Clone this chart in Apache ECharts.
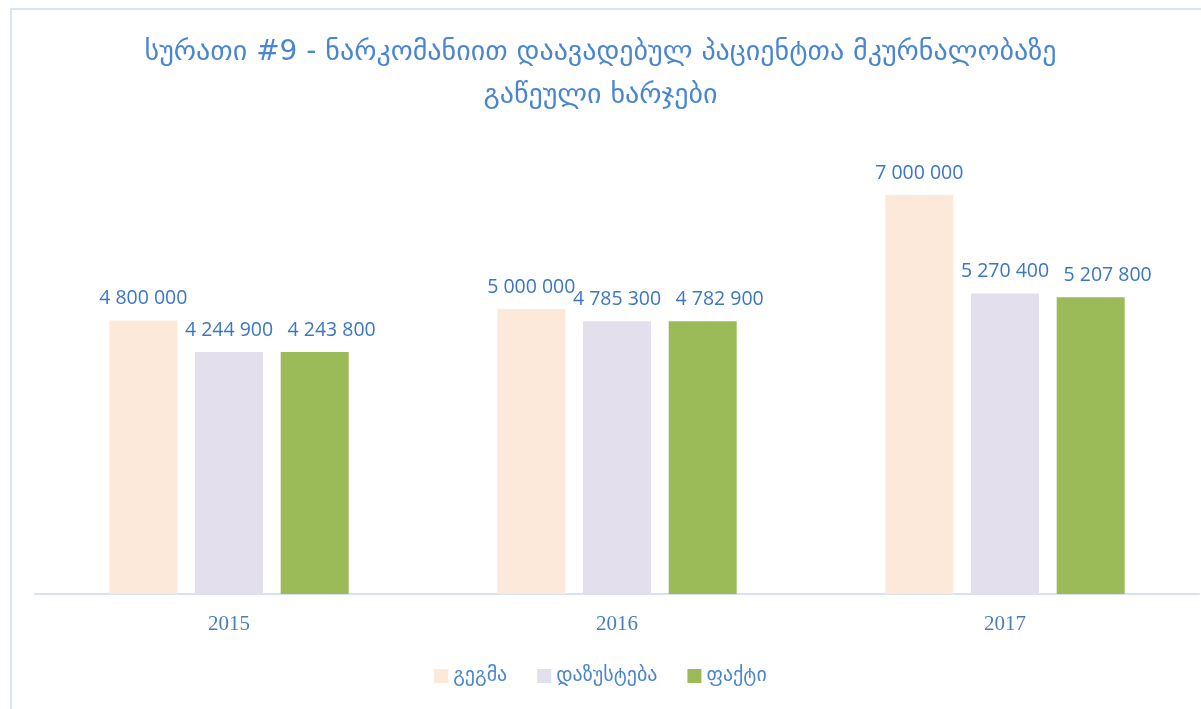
<!DOCTYPE html>
<html>
<head>
<meta charset="utf-8">
<script src="https://cdn.jsdelivr.net/npm/echarts@6/dist/echarts.min.js"></script>
<style>
  html, body { margin: 0; padding: 0; background: #fff; }
  #chart { width: 1201px; height: 709px; }
</style>
</head>
<body>
<div id="chart"></div>
<script>
var years = ['2015', '2016', '2017'];
var seriesNames = ['გეგმა', 'დაზუსტება', 'ფაქტი'];
var planValues = [4800000, 5000000, 7000000];
var clarifiedValues = [4244900, 4785300, 5270400];
var factValues = [4243800, 4782900, 5207800];

var colors = ['#fde9d9', '#e4dfec', '#9bbb59'];
var labelColor = '#3b76c5';

function fmt(v) {
    return String(v).replace(/\B(?=(\d{3})+(?!\d))/g, ' ');
}

// the last series has its labels nudged right so they don't collide
function makeSeries(name, data, dx) {
    return {
        name: name,
        type: 'bar',
        data: data,
        barWidth: 68,
        barGap: '26%',
        label: {
            show: true,
            position: 'top',
            distance: 12,
            offset: [dx, 0],
            color: labelColor,
            fontFamily: 'Open Sans',
            fontSize: 19.5,
            formatter: function (p) { return fmt(p.value); }
        }
    };
}

var chart = echarts.init(document.getElementById('chart'));
chart.setOption({
    color: colors,
    animation: false,
    title: {
        text: 'სურათი #9 - ნარკომანიით დაავადებულ პაციენტთა მკურნალობაზე\nგაწეული ხარჯები',
        left: 'center',
        top: 26,
        textStyle: {
            color: '#4a86d0',
            fontFamily: 'DejaVu Sans',
            fontWeight: 'normal',
            fontSize: 28,
            lineHeight: 43
        }
    },
    legend: {
        data: seriesNames,
        bottom: 18,
        left: 'center',
        itemWidth: 14,
        itemHeight: 14,
        itemGap: 30,
        icon: 'rect',
        textStyle: { color: '#4a86d0', fontFamily: 'DejaVu Sans', fontSize: 20 }
    },
    grid: { left: 35, right: 2, top: 138, bottom: 115 },
    xAxis: {
        type: 'category',
        data: years,
        axisLine: { lineStyle: { color: '#d6e2f2', width: 2 } },
        axisTick: { show: false },
        axisLabel: {
            color: '#4a7ebb',
            fontFamily: 'Liberation Serif',
            fontSize: 21,
            margin: 20
        }
    },
    yAxis: {
        type: 'value',
        min: 0,
        max: 8000000,
        show: false,
        splitLine: { show: false }
    },
    graphic: [{
        type: 'polyline',
        shape: { points: [[11, 720], [11, 9], [1210, 9]] },
        style: { stroke: '#dae3f1', lineWidth: 2, fill: null }
    }],
    series: [
        makeSeries(seriesNames[0], planValues, 0),
        makeSeries(seriesNames[1], clarifiedValues, 0),
        makeSeries(seriesNames[2], factValues, 17)
    ]
});
</script>
</body>
</html>
